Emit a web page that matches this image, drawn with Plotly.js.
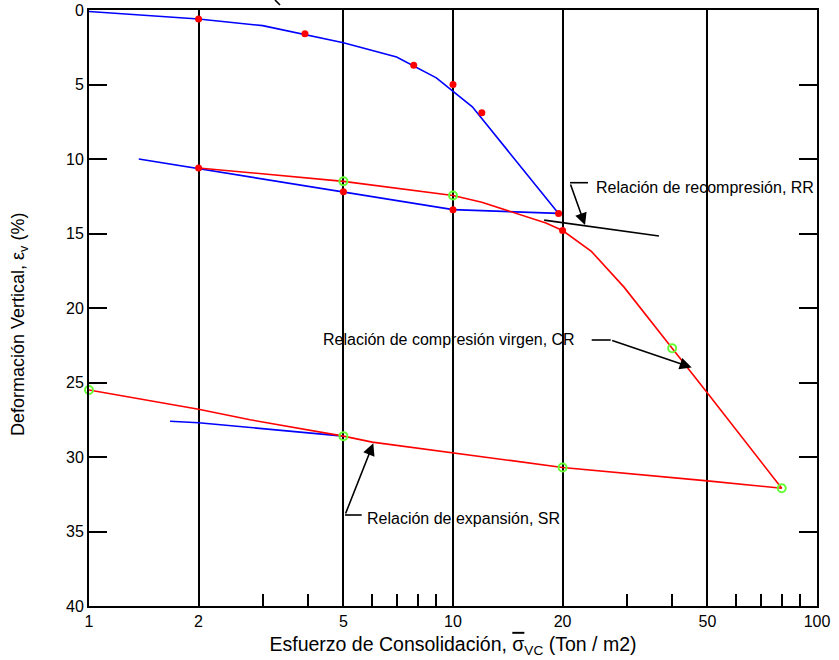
<!DOCTYPE html>
<html>
<head>
<meta charset="utf-8">
<script src="https://cdn.plot.ly/plotly-3.0.1.min.js"></script>
<style>html,body{margin:0;padding:0;background:#fff;}#chart{width:839px;height:660px;}</style>
</head>
<body>
<div id="chart"></div>
<script>
// ---- data (stress in Ton/m2, vertical strain in %) ----
const loadX = [1, 2, 3, 5, 7, 9, 11.3, 19.5];
const loadY = [0.1, 0.6, 1.05, 2.2, 3.15, 4.55, 6.5, 13.65];

const recompX = [1.37, 2, 5, 10, 19.5];
const recompY = [10.0, 10.65, 12.2, 13.4, 13.65];

const reloadX = [2, 5, 10, 12, 18, 20, 24, 29.5, 40, 50, 80];
const reloadY = [10.6, 11.5, 12.45, 12.9, 14.3, 14.8, 16.2, 18.6, 22.7, 25.7, 32.1];

const unloadX = [80, 50, 20, 10, 6, 5, 2.77, 2, 1];
const unloadY = [32.1, 31.6, 30.7, 29.7, 29.0, 28.6, 27.5, 26.8, 25.5];

const swellX = [1.67, 2, 5];
const swellY = [27.6, 27.7, 28.6];

const tangentX = [17.8, 36.8];
const tangentY = [14.1, 15.17];

const redDotX = [2, 3.92, 7.8, 10, 12, 2, 5, 10, 19.5, 20];
const redDotY = [0.6, 1.6, 3.7, 5.0, 6.9, 10.6, 12.2, 13.4, 13.65, 14.8];

const greenX = [5, 10, 40, 80, 20, 5, 1];
const greenY = [11.5, 12.45, 22.7, 32.1, 30.7, 28.6, 25.5];

const xTickVals = [1, 2, 5, 10, 20, 50, 100];
const xTickText = ['1', '2', '5', '10', '20', '50', '100'];
const xMinorVals = [3, 4, 6, 7, 8, 9, 30, 40, 60, 70, 80, 90];
const yTickVals = [0, 5, 10, 15, 20, 25, 30, 35, 40];

// ---- helpers for pixel placement of leader lines (plot area 89..817 x 10..606) ----
const L = 89, R = 817, T = 10, B = 606;
const px = v => (v - L) / (R - L);
const py = v => (B - v) / (B - T);

const BLUE = '#0000ff', RED = '#ff0000', GREEN = '#66ff33';
const lw = 1.6;

const traces = [
  {x: loadX, y: loadY, mode: 'lines', line: {color: BLUE, width: lw}},
  {x: recompX, y: recompY, mode: 'lines', line: {color: BLUE, width: lw}},
  {x: swellX, y: swellY, mode: 'lines', line: {color: BLUE, width: lw}},
  {x: reloadX, y: reloadY, mode: 'lines', line: {color: RED, width: lw}},
  {x: unloadX, y: unloadY, mode: 'lines', line: {color: RED, width: lw}},
  {x: tangentX, y: tangentY, mode: 'lines', line: {color: '#000', width: lw}},
  {x: redDotX, y: redDotY, mode: 'markers', marker: {color: RED, size: 7}, cliponaxis: false},
  {x: greenX, y: greenY, mode: 'markers', marker: {color: GREEN, size: 8, symbol: 'circle-open', line: {color: GREEN, width: 2}}, cliponaxis: false}
];

const font = {family: 'Arial, "Liberation Sans", sans-serif', color: '#000'};

function seg(x0, y0, x1, y1) {
  return {type: 'line', xref: 'paper', yref: 'paper', x0: px(x0), y0: py(y0), x1: px(x1), y1: py(y1),
          line: {color: '#000', width: 1.6}};
}
function arrow(tx, ty, sx, sy) {
  return {xref: 'paper', yref: 'paper', x: px(tx), y: py(ty), ax: sx - tx, ay: sy - ty,
          axref: 'pixel', ayref: 'pixel', text: '', showarrow: true,
          arrowhead: 2, arrowsize: 1.5, arrowwidth: 1.6, arrowcolor: '#000'};
}

const shapes = [
  seg(570, 182.7, 588, 182.7),
  seg(591.7, 340, 610.7, 340),
  seg(345, 515, 361.7, 515),
  seg(275, 0, 280, 5)
];

const annFont = Object.assign({size: 16}, font);
const annotations = [
  arrow(585, 225, 570, 183),
  arrow(691.7, 367.5, 610.7, 340),
  arrow(373.3, 443.3, 345, 515),
  {xref: 'paper', yref: 'paper', x: px(594), y: py(187.5), xanchor: 'left', yanchor: 'middle',
   text: 'Relación de recompresión, RR', showarrow: false, font: annFont},
  {xref: 'paper', yref: 'paper', x: px(577), y: py(340), xanchor: 'right', yanchor: 'middle',
   text: 'Relación de compresión virgen, CR', showarrow: false, font: annFont},
  {xref: 'paper', yref: 'paper', x: px(365), y: py(518), xanchor: 'left', yanchor: 'middle',
   text: 'Relación de expansión, SR', showarrow: false, font: annFont},
  {xref: 'paper', yref: 'paper', x: px(19), y: py(325), xanchor: 'center', yanchor: 'middle', textangle: -90,
   text: 'Deformación Vertical, ε<sub>v</sub> (%)', showarrow: false, font: Object.assign({size: 18}, font)}
];

const layout = {
  width: 839, height: 660,
  margin: {l: L, r: 839 - R, t: T, b: 660 - B},
  paper_bgcolor: '#fff', plot_bgcolor: '#fff',
  showlegend: false,
  font: Object.assign({size: 16}, font),
  xaxis: {
    type: 'log', range: [0, 2],
    tickmode: 'array', tickvals: xTickVals, ticktext: xTickText,
    ticks: '', showgrid: true, gridcolor: '#000', gridwidth: 2,
    showline: true, linecolor: '#000', linewidth: 2, mirror: true,
    zeroline: false,
    tickfont: Object.assign({size: 16}, font),
    minor: {tickmode: 'array', tickvals: xMinorVals, ticks: 'inside', ticklen: 12, tickwidth: 2, tickcolor: '#000', showgrid: false},
    title: {text: 'Esfuerzo de Consolidación, <span style="text-decoration:overline">σ</span><sub>VC</sub> (Ton / m2)',
            font: Object.assign({size: 19.5}, font), standoff: 8}
  },
  yaxis: {
    range: [40, 0], autorange: false,
    tickmode: 'array', tickvals: yTickVals,
    ticks: 'inside', ticklen: 18, tickwidth: 2, tickcolor: '#000',
    showgrid: false, zeroline: false,
    showline: true, linecolor: '#000', linewidth: 2, mirror: 'ticks',
    tickfont: Object.assign({size: 16}, font)
  },
  shapes: shapes,
  annotations: annotations
};

Plotly.newPlot('chart', traces, layout, {displayModeBar: false, staticPlot: true});
</script>
</body>
</html>
